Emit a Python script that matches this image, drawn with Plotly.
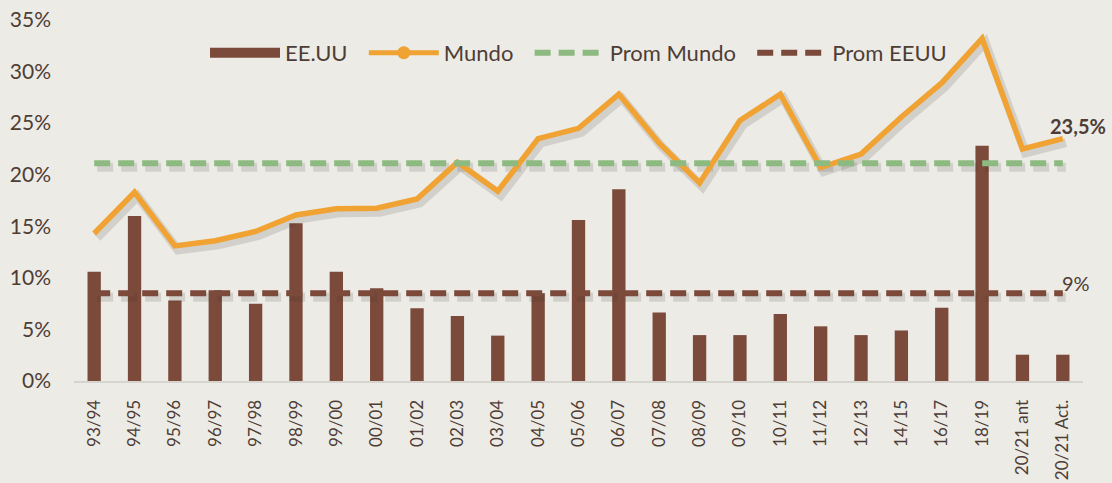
import plotly.graph_objects as go

categories = ["93/94", "94/95", "95/96", "96/97", "97/98", "98/99", "99/00", "00/01",
              "01/02", "02/03", "03/04", "04/05", "05/06", "06/07", "07/08", "08/09",
              "09/10", "10/11", "11/12", "12/13", "14/15", "16/17", "18/19",
              "20/21 ant", "20/21 Act."]
eeuu = [10.6, 16.0, 7.8, 8.8, 7.5, 15.3, 10.6, 9.0, 7.05, 6.3, 4.4, 8.5, 15.6, 18.6,
        6.65, 4.45, 4.45, 6.5, 5.3, 4.45, 4.9, 7.1, 22.8, 2.55, 2.55]
mundo = [14.3, 18.3, 13.1, 13.6, 14.5, 16.1, 16.7, 16.75, 17.65, 21.2, 18.4, 23.5, 24.5,
         27.8, 23.05, 19.2, 25.25, 27.8, 20.7, 22.0, 25.6, 28.9, 33.2, 22.5, 23.5]
prom_mundo = [21.1] * len(categories)
prom_eeuu = [8.5] * len(categories)
y_ticks = [0, 5, 10, 15, 20, 25, 30, 35]
y_tick_labels = ["0%", "5%", "10%", "15%", "20%", "25%", "30%", "35%"]

BROWN = "#7B4A3B"
ORANGE = "#F0A233"
GREEN = "#8DBA80"
TEXT = "#4E3D35"
BG = "#ECEBE6"
SHADOW = "rgba(60,50,40,0.14)"
DASH = "16px,8px"
PAD = "\u00a0\u00a0"

fig = go.Figure()
# bars on the main (visible) axes
fig.add_trace(go.Bar(x=categories, y=eeuu, marker=dict(color=BROWN, line=dict(width=0)),
                     name="EE.UU", showlegend=False))
# soft shadows of the lines (on an overlaid, slightly shifted axis pair)
for vals, dash in ((prom_mundo, DASH), (prom_eeuu, DASH), (mundo, None)):
    fig.add_trace(go.Scatter(x=categories, y=vals, mode="lines", showlegend=False,
                             hoverinfo="skip", xaxis="x2", yaxis="y2",
                             line=dict(color=SHADOW, width=9, dash=dash)))
# legend entries
fig.add_trace(go.Scatter(x=[None], y=[None], mode="lines", name="EE.UU" + PAD,
                         line=dict(color=BROWN, width=14)))
fig.add_trace(go.Scatter(x=[None], y=[None], mode="lines+markers", name="Mundo" + PAD,
                         line=dict(color=ORANGE, width=5), marker=dict(size=13, color=ORANGE)))
# real lines on top
fig.add_trace(go.Scatter(x=categories, y=mundo, mode="lines", name="Mundo",
                         line=dict(color=ORANGE, width=5.5), showlegend=False,
                         xaxis="x3", yaxis="y3"))
fig.add_trace(go.Scatter(x=categories, y=prom_mundo, mode="lines", name="Prom Mundo" + PAD,
                         line=dict(color=GREEN, width=6, dash=DASH), xaxis="x3", yaxis="y3"))
fig.add_trace(go.Scatter(x=categories, y=prom_eeuu, mode="lines", name="Prom EEUU",
                         line=dict(color=BROWN, width=6, dash=DASH), xaxis="x3", yaxis="y3"))

fig.add_annotation(x=categories[-1], y=mundo[-1], text="<b>23,5%</b>", showarrow=False,
                   xanchor="left", yanchor="bottom", xshift=-15, yshift=-1,
                   font=dict(size=20, color=TEXT, family="Lato"))
fig.add_annotation(x=categories[-1], y=prom_eeuu[-1], text="9%", showarrow=False,
                   xanchor="left", yanchor="bottom", xshift=-3, yshift=-4,
                   font=dict(size=20, color=TEXT, family="Lato"))

n = len(categories)
dx = 3 / 40.36   # shadow offset in category units
dy = 4 / 10.31   # shadow offset in percent units
hidden = dict(visible=False, showgrid=False, zeroline=False, type="category",
              categoryorder="array", categoryarray=categories)

fig.update_layout(
    width=1112, height=483,
    margin=dict(l=74, r=29, t=20, b=102, autoexpand=False),
    paper_bgcolor=BG, plot_bgcolor=BG,
    font=dict(family="Lato", color=TEXT, size=18),
    bargap=0.67,
    legend=dict(orientation="h", x=0.5, xanchor="center", y=0.909, yanchor="middle",
                bgcolor="rgba(0,0,0,0)", font=dict(size=22, color=TEXT), itemwidth=70,
                traceorder="normal"),
    xaxis=dict(showgrid=False, tickangle=-90, tickfont=dict(size=17, color=TEXT),
               showline=True, linecolor="#D6D4CF", linewidth=2, ticks="",
               ticklabelstandoff=10, range=[-0.5, n - 0.5], automargin=False),
    yaxis=dict(range=[0, 35], tickvals=y_ticks, ticktext=y_tick_labels, showgrid=False,
               zeroline=False, tickfont=dict(size=21, color=TEXT), ticklabelstandoff=22,
               automargin=False),
    xaxis2=dict(overlaying="x", range=[-0.5 - dx, n - 0.5 - dx], **hidden),
    yaxis2=dict(overlaying="y", range=[dy, 35 + dy], visible=False, showgrid=False,
                zeroline=False),
    xaxis3=dict(overlaying="x", range=[-0.5, n - 0.5], **hidden),
    yaxis3=dict(overlaying="y", range=[0, 35], visible=False, showgrid=False, zeroline=False),
)

fig.write_html("out.html", config={"responsive": False, "displayModeBar": False},
               post_script="document.body.style.margin='0';document.body.style.overflow='hidden';")
